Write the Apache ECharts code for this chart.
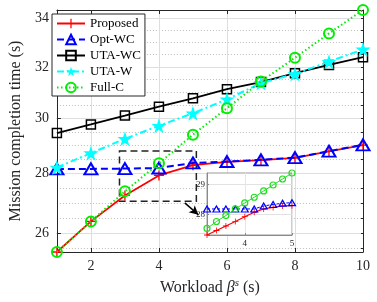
<!DOCTYPE html>
<html><head><meta charset="utf-8">
<script src="https://cdn.jsdelivr.net/npm/echarts@6/dist/echarts.min.js"></script>
<style>html,body{margin:0;padding:0;background:#fff}#c{width:377px;height:302px}</style>
</head><body><div id="c"></div>
<script>
// ---- data ----
const workload = [1, 2, 3, 4, 5, 6, 7, 8, 9, 10];
const proposed = [25.39, 26.38, 27.25, 27.94, 28.30, 28.42, 28.48, 28.56, 28.79, 29.02];
const optWC    = [28.17, 28.17, 28.18, 28.20, 28.38, 28.43, 28.49, 28.57, 28.80, 29.03];
const utaWC    = [29.46, 29.78, 30.11, 30.45, 30.77, 31.12, 31.40, 31.75, 32.08, 32.39];
const utaW     = [28.22, 28.73, 29.25, 29.73, 30.20, 30.73, 31.36, 31.72, 32.21, 32.71];
const fullC    = [25.39, 26.38, 27.39, 28.37, 29.40, 30.39, 31.42, 32.37, 33.37, 34.36];
const seriesNames = ['Proposed', 'Opt-WC', 'UTA-WC', 'UTA-W', 'Full-C'];

const xTicks = [2, 4, 6, 8, 10];
const yMajorTicks = [26, 28, 30, 32, 34];
const yMinorTicks = [25.5, 26.5, 27, 27.5, 28.5, 29, 29.5, 30.5, 31, 31.5, 32.5, 33, 33.5];
const yAllTicks = [25.5, 26, 26.5, 27, 27.5, 28, 28.5, 29, 29.5, 30, 30.5, 31, 31.5, 32, 32.5, 33, 33.5, 34];

// zoomed inset
const zoomX        = [3.2, 3.4, 3.6, 3.8, 4.0, 4.2, 4.4, 4.6, 4.8, 5.0];
const zoomProposed = [27.31, 27.46, 27.61, 27.76, 27.92, 28.07, 28.18, 28.23, 28.28, 28.29];
const zoomOptWC    = [28.18, 28.18, 28.18, 28.18, 28.18, 28.18, 28.28, 28.33, 28.37, 28.39];
const zoomFullC    = [27.53, 27.76, 27.96, 28.18, 28.38, 28.57, 28.78, 28.98, 29.18, 29.38];
const zoomXTicks = [4, 5];
const zoomYTicks = [28, 29];

// zoom box & arrow (data coordinates)
const zoomBox = [[2.84, 28.81], [5.10, 27.05]];
const arrowFrom = [4.76, 27.0];
const arrowTo = [5.16, 26.6];

// ---- styling ----
const FONT = 'Liberation Serif';
const AX = '#262626';
const PLUS = 'path://M-0.13,-1H0.13V-0.13H1V0.13H0.13V1H-0.13V0.13H-1V-0.13H-0.13Z';
const STAR = 'path://M0,-1L0.2245,-0.309L0.951,-0.309L0.363,0.118L0.588,0.809L0,0.382L-0.588,0.809L-0.363,0.118L-0.951,-0.309L-0.2245,-0.309Z';
const pairs = (xs, ys) => xs.map((x, i) => [x, ys[i]]);

const chart = echarts.init(document.getElementById('c'), null, {renderer: 'canvas'});

const mainX = {type: 'value', min: 1, max: 10, gridIndex: 0};
const mainY = {type: 'log', logBase: 10, min: 25.39, max: 34.36, gridIndex: 0};

const option = {
  animation: false,
  backgroundColor: '#fff',
  textStyle: {fontFamily: FONT},
  grid: [
    {left: 45, right: 14, top: 10, bottom: 50},
    {left: 207, top: 173, width: 85, height: 62, show: true, backgroundColor: '#fff',
     borderColor: '#9a9a9a', borderWidth: 1, z: 10}
  ],
  legend: {
    data: seriesNames, orient: 'vertical', left: 52, top: 14,
    itemWidth: 28, itemHeight: 12, itemGap: 3,
    padding: [3, 4, 2, 4],
    backgroundColor: '#fff', borderColor: AX, borderWidth: 1,
    textStyle: {fontFamily: FONT, fontSize: 13, color: '#000', lineHeight: 13},
    z: 20
  },
  xAxis: [
    Object.assign({}, mainX, {
      name: '{n|Workload }{i|β}{s|s}{n| (s)}', nameLocation: 'middle', nameGap: 24,
      nameTextStyle: {rich: {
        n: {fontFamily: FONT, fontSize: 16, color: '#262626'},
        i: {fontFamily: FONT, fontSize: 16, fontStyle: 'italic', color: '#262626'},
        s: {fontFamily: FONT, fontSize: 11, fontStyle: 'italic', color: '#262626', verticalAlign: 'bottom', padding: [0, 0, 8, 0]}
      }},
      axisLine: {show: true, lineStyle: {color: AX, width: 1}},
      axisTick: {show: true, inside: true, length: 4, customValues: xTicks, lineStyle: {color: AX}},
      axisLabel: {customValues: xTicks, fontFamily: FONT, fontSize: 14, color: '#262626', margin: 7},
      splitLine: {show: true, lineStyle: {color: '#dedede', width: 1}}
    }),
    Object.assign({}, mainX, {
      position: 'top',
      axisLine: {show: true, lineStyle: {color: AX, width: 1}},
      axisTick: {show: true, inside: true, length: 4, customValues: xTicks, lineStyle: {color: AX}},
      axisLabel: {show: false}, splitLine: {show: false}
    }),
    {type: 'value', gridIndex: 1, min: 3.2, max: 5.0, z: 11,
      axisLine: {show: true, lineStyle: {color: '#8a8a8a', width: 1}},
      axisTick: {show: true, inside: true, length: 2, customValues: zoomXTicks, lineStyle: {color: '#8a8a8a'}},
      axisLabel: {customValues: zoomXTicks, fontFamily: FONT, fontSize: 9, color: '#262626', margin: 4},
      splitLine: {show: true, lineStyle: {color: '#e6e6e6'}}
    }
  ],
  yAxis: [
    Object.assign({}, mainY, {
      name: 'Mission completion time (s)', nameLocation: 'middle', nameGap: 25,
      nameTextStyle: {fontFamily: FONT, fontSize: 16, color: '#262626'},
      axisLine: {show: true, lineStyle: {color: AX, width: 1}},
      axisTick: {show: true, inside: true, length: 4, customValues: yMajorTicks, lineStyle: {color: AX}},
      axisLabel: {customValues: yMajorTicks, fontFamily: FONT, fontSize: 14, color: '#262626', margin: 8},
      splitLine: {show: true, lineStyle: {color: '#dedede', width: 1}}
    }),
    Object.assign({}, mainY, {
      axisLine: {show: false},
      axisTick: {show: true, inside: true, length: 2, customValues: yMinorTicks, lineStyle: {color: AX}},
      axisLabel: {show: false},
      splitLine: {show: true, lineStyle: {color: '#bdbdbd', width: 1, type: [1, 2]}}
    }),
    Object.assign({}, mainY, {
      position: 'right',
      axisLine: {show: true, lineStyle: {color: AX, width: 1}},
      axisTick: {show: true, inside: true, length: 2, customValues: yAllTicks, lineStyle: {color: AX}},
      axisLabel: {show: false}, splitLine: {show: false}
    }),
    {type: 'value', gridIndex: 1, min: 27.31, max: 29.38, z: 11,
      axisLine: {show: true, lineStyle: {color: '#8a8a8a', width: 1}},
      axisTick: {show: true, inside: true, length: 2, customValues: zoomYTicks, lineStyle: {color: '#8a8a8a'}},
      axisLabel: {customValues: zoomYTicks, fontFamily: FONT, fontSize: 9, color: '#262626', margin: 2},
      splitLine: {show: true, lineStyle: {color: '#e2e2e2'}}
    }
  ],
  series: [
    {name: 'Proposed', type: 'line', xAxisIndex: 0, yAxisIndex: 0, data: pairs(workload, proposed),
      symbol: PLUS, symbolSize: 10, itemStyle: {color: '#ff0000'},
      lineStyle: {color: '#ff0000', width: 1.8}, z: 3,
      markArea: {silent: true, itemStyle: {color: 'rgba(0,0,0,0)', borderColor: '#222', borderWidth: 1.5, borderType: [7, 4]},
        data: [[{coord: zoomBox[0]}, {coord: zoomBox[1]}]]},
      markLine: {silent: true, symbol: ['none', 'arrow'], symbolSize: [7, 9], label: {show: false},
        lineStyle: {color: '#000', width: 1.5, type: 'solid'},
        data: [[{coord: arrowFrom}, {coord: arrowTo}]]}
    },
    {name: 'Opt-WC', type: 'line', xAxisIndex: 0, yAxisIndex: 0, data: pairs(workload, optWC),
      symbol: 'triangle', symbolSize: [13, 11], itemStyle: {color: 'rgba(0,0,0,0)', borderColor: '#0000ff', borderWidth: 2},
      lineStyle: {color: '#0000ff', width: 2, type: [7, 4]}, z: 4},
    {name: 'UTA-WC', type: 'line', xAxisIndex: 0, yAxisIndex: 0, data: pairs(workload, utaWC),
      symbol: 'rect', symbolSize: 9, itemStyle: {color: 'rgba(0,0,0,0)', borderColor: '#000', borderWidth: 1.5},
      lineStyle: {color: '#000', width: 1.8}, z: 5},
    {name: 'UTA-W', type: 'line', xAxisIndex: 0, yAxisIndex: 0, data: pairs(workload, utaW),
      symbol: STAR, symbolSize: 15, itemStyle: {color: '#00ffff'},
      lineStyle: {color: '#00ffff', width: 2, type: [7, 3, 2, 3]}, z: 6},
    {name: 'Full-C', type: 'line', xAxisIndex: 0, yAxisIndex: 0, data: pairs(workload, fullC),
      symbol: 'circle', symbolSize: 10, itemStyle: {color: 'rgba(0,0,0,0)', borderColor: '#00ee00', borderWidth: 2},
      lineStyle: {color: '#00ee00', width: 2, type: [1.5, 2.5]}, z: 7},
    // inset
    {name: 'Proposed (zoom)', type: 'line', xAxisIndex: 2, yAxisIndex: 3, data: pairs(zoomX, zoomProposed),
      symbol: PLUS, symbolSize: 6, itemStyle: {color: '#ff0000'}, lineStyle: {color: '#ff0000', width: 1.2}, z: 12, clip: true},
    {name: 'Opt-WC (zoom)', type: 'line', xAxisIndex: 2, yAxisIndex: 3, data: pairs(zoomX, zoomOptWC),
      symbol: 'triangle', symbolSize: [7, 6], itemStyle: {color: 'rgba(0,0,0,0)', borderColor: '#0000ff', borderWidth: 1.2},
      lineStyle: {color: '#0000ff', width: 1, type: [3, 2]}, z: 13, clip: true},
    {name: 'Full-C (zoom)', type: 'line', xAxisIndex: 2, yAxisIndex: 3, data: pairs(zoomX, zoomFullC),
      symbol: 'circle', symbolSize: 6, itemStyle: {color: 'rgba(0,0,0,0)', borderColor: '#22dd22', borderWidth: 1.2},
      lineStyle: {color: '#22dd22', width: 1}, z: 14, clip: true}
  ]
};
chart.setOption(option);
</script></body></html>
